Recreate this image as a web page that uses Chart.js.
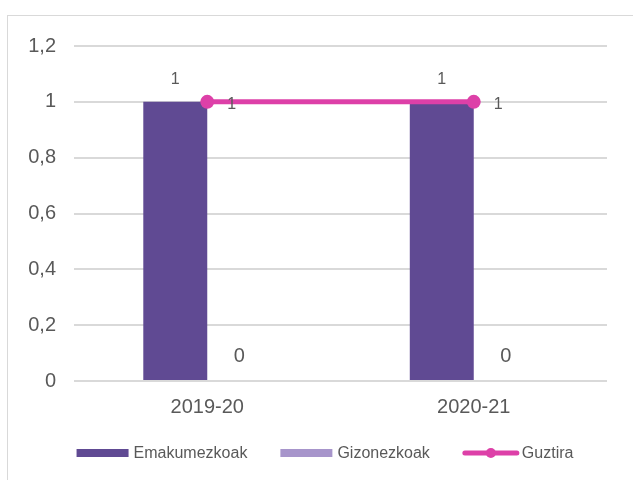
<!DOCTYPE html>
<html>
<head>
<meta charset="utf-8">
<script src="https://cdn.jsdelivr.net/npm/chart.js@4/dist/chart.umd.min.js"></script>
<style>
  html, body { margin: 0; padding: 0; background: #ffffff; overflow: hidden; width: 633px; height: 480px; }
  #frame { position: absolute; left: 7px; top: 15px; width: 636px; height: 490px; box-sizing: border-box; border: 1px solid #d9d9d9; background: #fff; }
  #wrap { position: absolute; left: 0; top: 0; width: 634px; height: 488px; }
</style>
</head>
<body>
<div id="frame"><div id="wrap"><canvas id="c"></canvas></div></div>
<script>
const categories = ['2019-20', '2020-21'];
const emakumezkoak = [1, 1];
const gizonezkoak = [0, 0];
const guztira = [1, 1];
const seriesNames = ['Emakumezkoak', 'Gizonezkoak', 'Guztira'];
const yTickLabels = ['0', '0,2', '0,4', '0,6', '0,8', '1', '1,2'];

const COL_DARK = '#604a93';
const COL_LIGHT = '#a795cb';
const COL_LINE = '#dd40a8';
const TXT = '#595959';
const FONT = '"Liberation Sans", Arial, sans-serif';

const labelPlugin = {
  id: 'valueLabels',
  afterDatasetsDraw(chart) {
    const ctx = chart.ctx;
    ctx.save();
    ctx.fillStyle = TXT;
    ctx.textBaseline = 'middle';
    chart.data.datasets.forEach((ds, di) => {
      const meta = chart.getDatasetMeta(di);
      meta.data.forEach((el, i) => {
        const v = ds.data[i];
        const txt = String(v).replace('.', ',');
        if (di === 0) {
          ctx.font = '16px ' + FONT; ctx.textAlign = 'center';
          ctx.fillText(txt, el.x, el.y - 22);
        } else if (di === 1) {
          ctx.font = '20px ' + FONT; ctx.textAlign = 'center';
          ctx.fillText(txt, el.x, el.y - 25);
        } else {
          ctx.font = '16px ' + FONT; ctx.textAlign = 'left';
          ctx.fillText(txt, el.x + 20, el.y + 3);
        }
      });
    });
    ctx.restore();
  }
};

const legendPlugin = {
  id: 'customLegend',
  afterDraw(chart) {
    const ctx = chart.ctx;
    ctx.save();
    ctx.font = '16px ' + FONT;
    ctx.textBaseline = 'middle';
    ctx.textAlign = 'left';
    const items = [
      { name: seriesNames[0], type: 'box', color: COL_DARK, w: 52, gap: 5 },
      { name: seriesNames[1], type: 'box', color: COL_LIGHT, w: 52, gap: 5 },
      { name: seriesNames[2], type: 'line', color: COL_LINE, w: 56, gap: 3 }
    ];
    const spacing = 33;
    let total = 0;
    items.forEach((it, i) => { it.tw = ctx.measureText(it.name).width; total += it.w + it.gap + it.tw + (i ? spacing : 0); });
    let x = chart.width / 2 - total / 2;
    const y = 437;
    items.forEach(it => {
      if (it.type === 'box') {
        ctx.fillStyle = it.color;
        ctx.fillRect(x, y - 4, it.w, 8);
      } else {
        ctx.strokeStyle = it.color; ctx.lineWidth = 5; ctx.lineCap = 'round';
        ctx.beginPath(); ctx.moveTo(x + 2, y); ctx.lineTo(x + it.w - 2, y); ctx.stroke();
        ctx.fillStyle = it.color;
        ctx.beginPath(); ctx.arc(x + it.w / 2, y, 5, 0, Math.PI * 2); ctx.fill();
      }
      ctx.fillStyle = TXT;
      ctx.fillText(it.name, x + it.w + it.gap, y + 1);
      x += it.w + it.gap + it.tw + spacing;
    });
    ctx.restore();
  }
};

new Chart(document.getElementById('c'), {
  type: 'bar',
  data: {
    labels: categories,
    datasets: [
      { label: seriesNames[0], data: emakumezkoak, backgroundColor: COL_DARK, order: 2, categoryPercentage: 0.48, barPercentage: 1 },
      { label: seriesNames[1], data: gizonezkoak, backgroundColor: COL_LIGHT, order: 2, categoryPercentage: 0.48, barPercentage: 1 },
      { label: seriesNames[2], data: guztira, type: 'line', borderColor: COL_LINE, backgroundColor: COL_LINE,
        borderWidth: 5, pointRadius: 7, pointHoverRadius: 7, pointBackgroundColor: COL_LINE, pointBorderWidth: 0, order: 0 }
    ]
  },
  options: {
    responsive: true,
    maintainAspectRatio: false,
    animation: false,
    layout: { padding: { left: 0, right: 35, top: 28, bottom: 80 } },
    plugins: { legend: { display: false }, tooltip: { enabled: false } },
    scales: {
      x: {
        grid: { display: false, drawTicks: false },
        border: { display: false },
        ticks: { color: TXT, font: { family: FONT, size: 20 }, padding: 14 },
        afterFit(s) { s.height = 43; }
      },
      y: {
        min: 0, max: 1.2,
        ticks: { stepSize: 0.2, color: TXT, font: { family: FONT, size: 20 }, padding: 18,
          callback: (v, i) => yTickLabels[i] },
        grid: { color: '#d9d9d9', lineWidth: 2, drawTicks: false },
        border: { display: false },
        afterFit(s) { s.width = 66; }
      }
    }
  },
  plugins: [labelPlugin, legendPlugin]
});
</script>
</body>
</html>
